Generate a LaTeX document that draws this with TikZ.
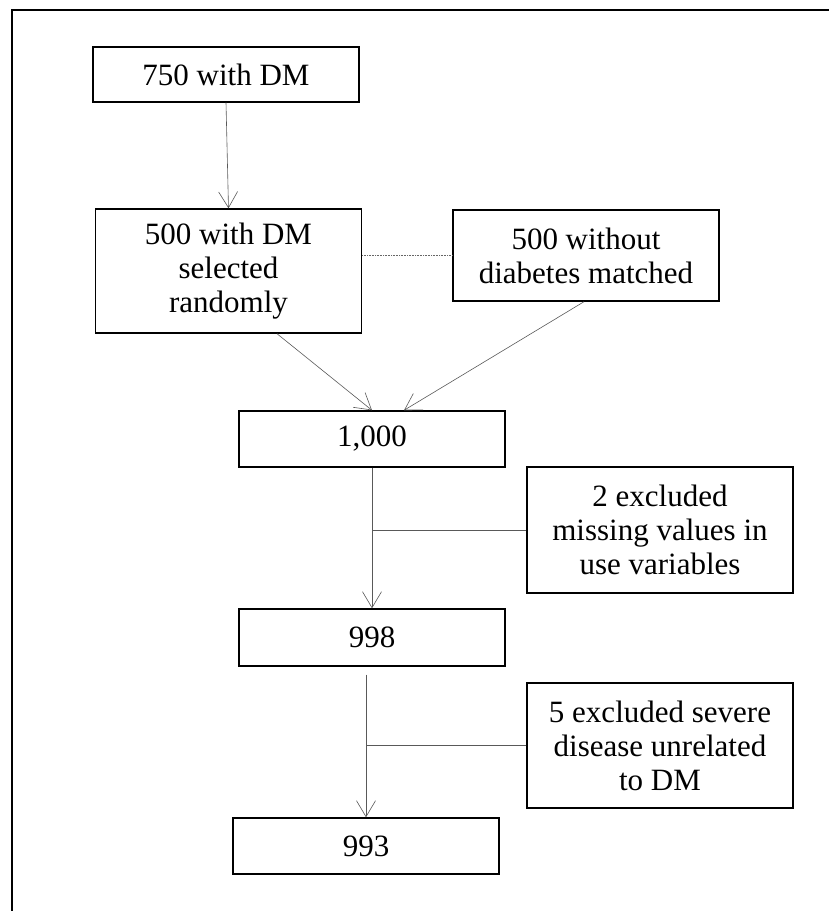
\documentclass[tikz,border=0pt]{standalone}
\usepackage{fontspec}
\setmainfont{Liberation Serif}
\usetikzlibrary{arrows.meta,calc}
\begin{document}
\begin{tikzpicture}[x=1pt,y=-1pt,
  box/.style={draw=black,line width=1.4pt,rectangle,align=center,inner sep=0pt,
              minimum width=266pt,font=\fontsize{31}{34}\selectfont},
  conn/.style={draw=black!65,line width=0.6pt},
  arr/.style={conn,-{Straight Barb[length=16pt,width=19pt]}},
  frame/.style={draw=black,line width=2pt},
  link/.style={draw=black!60,line width=0.6pt,dash pattern=on 1pt off 0.6pt}]
\useasboundingbox (0,0) rectangle (828,911);
\draw[frame] (840,10) -- (12,10) -- (12,925);

\node[box,minimum height=55pt]  (b1) at (226,74.5)  {750 with DM};
\node[box,minimum height=124pt] (b2) at (228.5,271) {500 with DM\\selected\\randomly};
\node[box,minimum height=91pt]  (b3) at (586,255.5) {500 without\\diabetes matched};
\node[box,minimum height=56pt]  (b4) at (372,439)   {1,000};
\node[box,minimum height=126pt] (b6) at (660,530)   {2 excluded\\missing values in\\use variables};
\node[box,minimum height=57pt]  (b5) at (372,637.5) {998};
\node[box,minimum height=125pt] (b7) at (660,745.5) {5 excluded severe\\disease unrelated\\to DM};
\node[box,minimum height=56pt]  (b8) at (366,846)   {993};

\draw[arr] (b1.south) -- (b2.north);
\draw[link] (b3.west -| b2.east) -- (b3.west);
\draw[arr] ([xshift=48.5pt]b2.south) -- (b4.north);
\draw[arr] ([xshift=-2pt]b3.south) -- ([xshift=32pt]b4.north);
\draw[arr] (b4.south) -- (b5.north);
\draw[conn] (b6.west) -- (b6.west -| b4.south);
\coordinate (s5) at ([yshift=-8pt]b5.south -| b8.north);
\draw[arr] (s5) -- (b8.north);
\draw[conn] (b7.west) -- (b7.west -| b8.north);
\end{tikzpicture}
\end{document}
